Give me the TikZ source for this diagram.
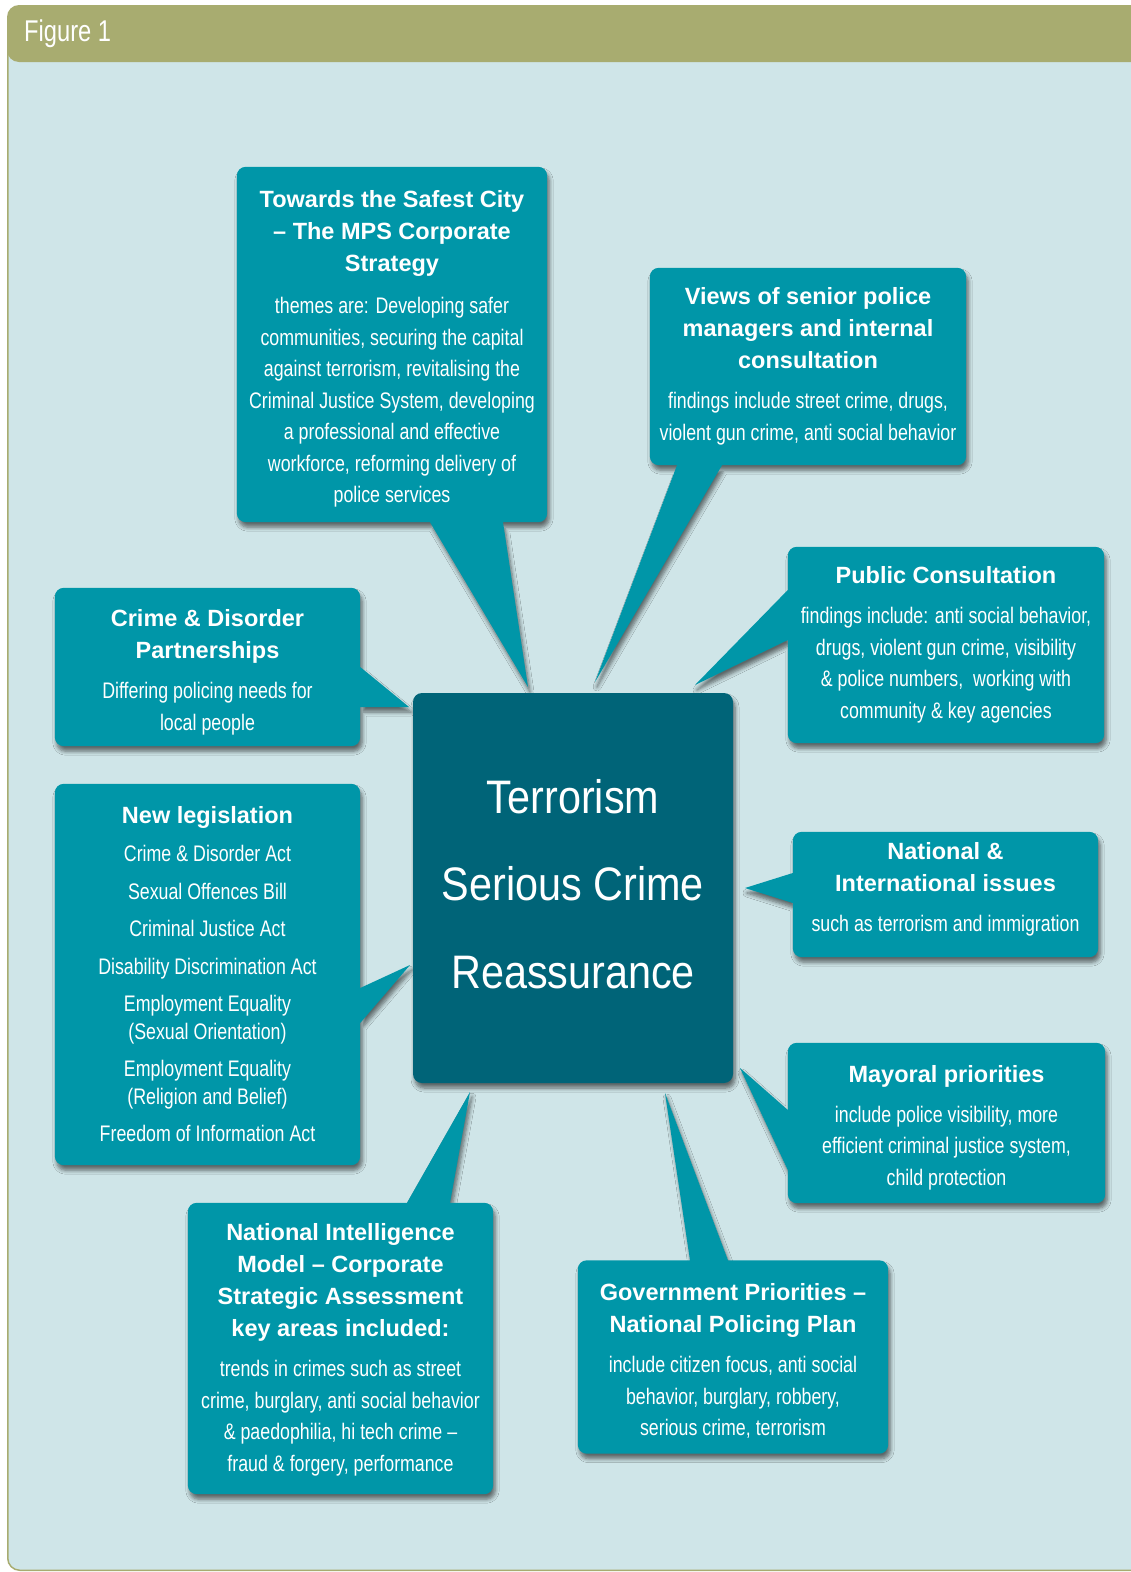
\documentclass[tikz,border=0pt]{standalone}
\usepackage{fontspec}
\setmainfont{Liberation Sans}
\newfontfamily\condfont[FakeStretch=0.79]{Liberation Sans}
\newfontfamily\corefont[FakeStretch=0.88]{Liberation Sans}
\usetikzlibrary{backgrounds,shadows.blur}

\definecolor{figgreen}{HTML}{A8AC70}
\definecolor{figbg}{HTML}{CFE5E8}
\definecolor{boxteal}{HTML}{0096A8}
\definecolor{coreteal}{HTML}{006478}

\newcommand{\titlefnt}{\fontsize{23.5}{32}\selectfont\bfseries\spaceskip=6.5pt\relax}
\newcommand{\bodyfnt}{\condfont\fontsize{22.5}{31.5}\selectfont\spaceskip=5pt\relax}
\newcommand{\listfnt}{\condfont\fontsize{22.5}{27.5}\selectfont\spaceskip=5pt\relax}
\newcommand{\itemgap}{\par\vspace{10pt}}
% a tall first line moves the whole text down in its box
\newcommand{\lift}[1]{\rule{0pt}{#1}}

\tikzset{
  bubble/.style={fill=boxteal, blur shadow={shadow xshift=2pt, shadow yshift=-5pt,
      shadow blur steps=6, shadow blur radius=4pt, shadow opacity=55}},
  bubble text/.style={text=white, align=flush center, inner sep=0pt},
  core/.style={fill=coreteal, rounded corners=9pt, text=white, align=flush center, inner sep=0pt,
      font=\corefont\fontsize{47}{87.5}\selectfont,
      blur shadow={shadow xshift=2pt, shadow yshift=-5pt, shadow blur steps=6,
      shadow blur radius=4pt, shadow opacity=55}},
}

\begin{document}
\begin{tikzpicture}[x=1pt, y=-1pt]
    \useasboundingbox (0,0) rectangle (1131,1572);

    % Header text of the figure
    \node[anchor=base west, text=white, inner sep=0pt, font=\condfont\fontsize{30}{32}\selectfont]
        (figlabel) at (24,41) {Figure 1};

    % Centre box
    \node[core, minimum width=320pt, minimum height=390pt, text width=310pt]
        (centre) at (573,888) {Terrorism\\Serious Crime\\Reassurance\par\vspace*{8pt}};

    % Surrounding boxes (text only, the shapes go on the background layer)
    \node[bubble text, minimum width=310pt, minimum height=355pt, text width=306pt]
        (safest) at (392,344.5)
        {{\titlefnt \lift{26pt}Towards the Safest City\\– The MPS Corporate\\Strategy\par}\vspace{10.5pt}%
         {\bodyfnt themes are: Developing safer\\communities, securing the capital\\against terrorism, revitalising the\\Criminal Justice System, developing\\a professional and effective\\workforce, reforming delivery of\\police services\par}};

    \node[bubble text, minimum width=316pt, minimum height=197pt, text width=312pt]
        (views) at (808,366.5)
        {{\titlefnt Views of senior police\\managers and internal\\consultation\par}\vspace{8.5pt}%
         {\bodyfnt findings include street crime, drugs,\\violent gun crime, anti social behavior\par}};

    \node[bubble text, minimum width=316pt, minimum height=196pt, text width=312pt]
        (public) at (946,645)
        {{\titlefnt Public Consultation\par}\vspace{8.5pt}%
         {\bodyfnt findings include: anti social behavior,\\drugs, violent gun crime, visibility\\\& police numbers,\hspace{10pt}working with\\community \& key agencies\par}};

    \node[bubble text, minimum width=305pt, minimum height=158pt, text width=301pt]
        (cdp) at (207.5,667)
        {{\titlefnt \lift{28pt}Crime \& Disorder\\Partnerships\par}\vspace{8.5pt}%
         {\bodyfnt Differing policing needs for\\local people\par}};

    \node[bubble text, minimum width=305pt, minimum height=381pt, text width=301pt]
        (legis) at (207.5,974.5)
        {{\titlefnt New legislation\par}\vspace{10.5pt}%
         {\listfnt Crime \& Disorder Act\itemgap
          Sexual Offences Bill\itemgap Criminal Justice Act\itemgap
          Disability Discrimination Act\itemgap Employment Equality\\(Sexual Orientation)\itemgap
          Employment Equality\\(Religion and Belief)\itemgap Freedom of Information Act\par}};

    \node[bubble text, minimum width=305pt, minimum height=125pt, text width=301pt]
        (natl) at (945.5,894.5)
        {{\titlefnt National \&\\International issues\par}\vspace{8.5pt}%
         {\bodyfnt such as terrorism and immigration\par}\vspace*{10pt}};

    \node[bubble text, minimum width=317pt, minimum height=160pt, text width=313pt]
        (mayor) at (946.5,1123)
        {{\titlefnt \lift{27pt}Mayoral priorities\par}\vspace{8pt}%
         {\bodyfnt include police visibility, more\\efficient criminal justice system,\\child protection\par}};

    \node[bubble text, minimum width=310pt, minimum height=193pt, text width=306pt]
        (govt) at (733,1357)
        {{\titlefnt \lift{25pt}Government Priorities –\\National Policing Plan\par}\vspace{8.5pt}%
         {\bodyfnt include citizen focus, anti social\\behavior, burglary, robbery,\\serious crime, terrorism\par}};

    \node[bubble text, minimum width=305pt, minimum height=291pt, text width=301pt]
        (nim) at (340.5,1348.5)
        {{\titlefnt \lift{20pt}National Intelligence\\Model – Corporate\\Strategic Assessment\\key areas included:\par}\vspace{8.5pt}%
         {\bodyfnt trends in crimes such as street\\crime, burglary, anti social behavior\\\& paedophilia, hi tech crime –\\fraud \& forgery, performance\par}};

    % Tips of the pointers, next to the centre box
    \coordinate (safest tip) at (528,687);
    \coordinate (views tip) at (595,682);
    \coordinate (public tip) at (695,685);
    \coordinate (cdp tip) at (409,707);
    \coordinate (legis tip) at (410,965);
    \coordinate (natl tip) at (745,888);
    \coordinate (mayor tip) at (740,1068);
    \coordinate (govt tip) at (665,1093);
    \coordinate (nim tip) at (470,1092);

    \begin{scope}[on background layer]
        \clip (0,0) rectangle (1131,1572);
        \fill[white] (0,0) rectangle (1131,1572);
        % Frame: light panel with green header
        \fill[figbg, draw=figgreen, line width=1.5pt, rounded corners=12pt]
            (7.75,40) rectangle (1160,1570.25);
        \fill[figgreen, rounded corners=12pt] (7,5) rectangle (1160,62);

        % Each box and its pointer in one path
        \path[bubble] [rounded corners=9pt] (safest.north west) rectangle (safest.south east)
            [sharp corners] (430,0 |- safest.south) -- (safest tip) -- (503,0 |- safest.south) -- cycle;
        \path[bubble] [rounded corners=9pt] (views.north west) rectangle (views.south east)
            [sharp corners] (677,0 |- views.south) -- (views tip) -- (722,0 |- views.south) -- cycle;
        \path[bubble] [rounded corners=9pt] (public.north west) rectangle (public.south east)
            [sharp corners] (public.west |- 0,590) -- (public tip) -- (public.west |- 0,640) -- cycle;
        \path[bubble] [rounded corners=9pt] (cdp.north west) rectangle (cdp.south east)
            [sharp corners] (cdp.east |- 0,667) -- (cdp tip) -- (cdp.east |- 0,707) -- cycle;
        \path[bubble] [rounded corners=9pt] (legis.north west) rectangle (legis.south east)
            [sharp corners] (legis.east |- 0,988) -- (legis tip) -- (legis.east |- 0,1023) -- cycle;
        \path[bubble] [rounded corners=9pt] (natl.north west) rectangle (natl.south east)
            [sharp corners] (natl.west |- 0,873) -- (natl tip) -- (natl.west |- 0,903) -- cycle;
        \path[bubble] [rounded corners=9pt] (mayor.north west) rectangle (mayor.south east)
            [sharp corners] (mayor.west |- 0,1110) -- (mayor tip) -- (mayor.west |- 0,1170) -- cycle;
        \path[bubble] [rounded corners=9pt] (govt.north west) rectangle (govt.south east)
            [sharp corners] (690,0 |- govt.north) -- (govt tip) -- (728,0 |- govt.north) -- cycle;
        \path[bubble] [rounded corners=9pt] (nim.north west) rectangle (nim.south east)
            [sharp corners] (407,0 |- nim.north) -- (nim tip) -- (450,0 |- nim.north) -- cycle;
    \end{scope}
\end{tikzpicture}
\end{document}
